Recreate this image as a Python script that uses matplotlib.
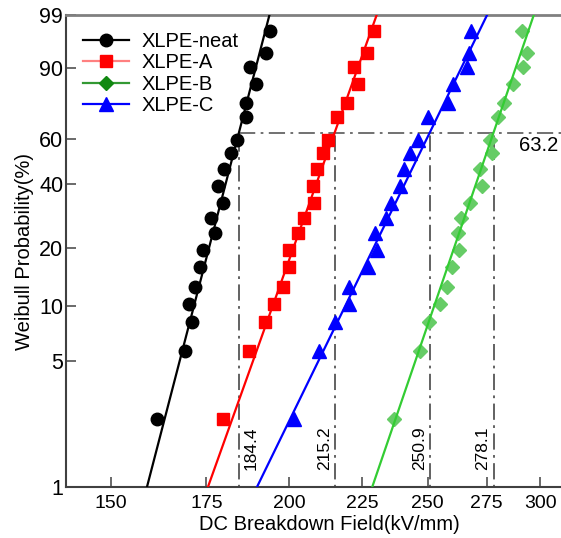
import numpy as np
import matplotlib
matplotlib.use('Agg')
import matplotlib.pyplot as plt
import matplotlib.transforms as mtransforms
from matplotlib.lines import Line2D

plt.rcParams['font.family'] = ['Liberation Sans', 'DejaVu Sans']

# plotting positions (%), same for all samples
prob = [2.4, 5.7, 8.2, 10.3, 12.6, 16.0, 19.5, 23.7, 28.0, 33.1,
        39.2, 46.4, 53.4, 59.5, 70.4, 77.2, 84.9, 90.3, 94.0, 97.6]

# breakdown fields (kV/mm)
neat = [161.5, 169.0, 170.9, 170.0, 171.8, 173.2, 174.1, 177.4, 176.3, 179.8,
        178.2, 180.1, 182.1, 183.8, 186.5, 186.5, 189.5, 187.8, 192.6, 193.9]
xlpe_a = [179.7, 187.5, 192.2, 195.2, 198.1, 199.8, 199.8, 203.0, 204.7, 208.0,
          207.8, 209.1, 211.2, 212.9, 216.0, 219.7, 223.4, 222.1, 226.7, 229.2]
xlpe_b = [236.9, 246.8, 250.5, 254.9, 258.0, 260.1, 262.9, 262.6, 264.0, 267.6,
          273.0, 272.0, 277.2, 276.7, 280.0, 282.7, 287.0, 291.7, 293.6, 291.2]
xlpe_c = [201.4, 209.7, 215.4, 220.4, 220.4, 227.0, 230.6, 229.8, 233.9, 235.7,
          239.0, 240.8, 243.2, 246.0, 250.0, 258.3, 260.5, 266.5, 267.2, 268.2]

names = ['XLPE-neat', 'XLPE-A', 'XLPE-B', 'XLPE-C']
samples = [neat, xlpe_a, xlpe_b, xlpe_c]
alpha = [184.4, 215.2, 278.1, 250.9]   # scale parameters (63.2 %)
beta = [31.0, 22.5, 23.5, 16.5]        # shape parameters of the fit lines

yticks = [1, 5, 10, 20, 40, 60, 90, 99]
xticks = [150, 175, 200, 225, 250, 275, 300]

line_cols = ['black', '#ff0000', '#33cc33', '#0000ff']
mark_cols = ['black', '#ff0000', '#66cc66', '#0000ff']
markers = ['o', 's', 'D', '^']
msizes = [9, 8, 7, 10]
leg_line = ['black', '#ff8080', '#339933', '#0000ff']
leg_mark = ['black', '#ff0000', '#118811', '#0000ff']


def fwd(p):
    with np.errstate(all='ignore'):
        return np.log(-np.log(1 - np.asarray(p) / 100.0))


def inv(w):
    with np.errstate(all='ignore'):
        return 100.0 * (1 - np.exp(-np.exp(np.asarray(w))))


fig = plt.figure(figsize=(5.61, 5.38), dpi=100)
ax = fig.add_axes([66 / 561, 51 / 538, 526 / 561, 472 / 538])
ax.set_xscale('log')
ax.set_yscale('function', functions=(fwd, inv))

for i in range(4):
    # fitted Weibull line between 0.5 % and 99.9 %
    pf = np.array([0.5, 99.9])
    xf = alpha[i] * (-np.log(1 - pf / 100)) ** (1 / beta[i])
    ax.plot(xf, pf, color=line_cols[i], lw=1.6, zorder=3)
    ax.plot(samples[i], prob, linestyle='none', marker=markers[i],
            ms=msizes[i], color=mark_cols[i], mec=mark_cols[i], zorder=2)

ax.set_xlim(139.5, 326)
ax.set_ylim(1, 99)

p63 = 100 * (1 - np.exp(-1))
dash = (0, (9, 3, 1.5, 3))
ax.plot([alpha[0], 400], [p63, p63], color='#666666', lw=1.3, linestyle=dash, zorder=1)
trans = mtransforms.blended_transform_factory(ax.transData, ax.transAxes)
for i, a in enumerate(alpha):
    ax.plot([a, a], [0.5, p63], color='#555555', lw=1.3, linestyle=dash, zorder=1)
    if i == 0:
        t = mtransforms.offset_copy(trans, fig=fig, x=5, y=0, units='dots')
        ax.text(a, 0.036, f'{a:.1f}', rotation=90, ha='left', va='bottom',
                fontsize=12.5, transform=t)
    else:
        t = mtransforms.offset_copy(trans, fig=fig, x=-3, y=0, units='dots')
        ax.text(a, 0.036, f'{a:.1f}', rotation=90, ha='right', va='bottom',
                fontsize=12.5, transform=t)
ax.text(290, 56.9, '63.2', fontsize=14.5, ha='left', va='center')

ax.set_xticks(xticks)
ax.set_xticklabels([str(v) for v in xticks])
ax.xaxis.set_minor_locator(matplotlib.ticker.NullLocator())
ax.set_yticks(yticks)
ax.set_yticklabels([str(v) for v in yticks])
ax.yaxis.set_minor_locator(matplotlib.ticker.NullLocator())
ax.tick_params(axis='both', direction='in', length=7, width=1.2, color='#505050')
ax.tick_params(axis='x', labelsize=14, pad=6)
ax.tick_params(axis='y', labelsize=15.5, pad=2)

for s in ['left', 'bottom']:
    ax.spines[s].set_color('#404040')
    ax.spines[s].set_linewidth(1.5)
ax.spines['top'].set_color('#808080')
ax.spines['top'].set_linewidth(2)
ax.spines['right'].set_visible(False)

ax.set_xlabel('DC Breakdown Field(kV/mm)', fontsize=14.5, labelpad=2)
ax.set_ylabel('Weibull Probability(%)', fontsize=14.5, labelpad=4)

handles = [Line2D([], [], color=leg_line[i], lw=1.6, marker=markers[i],
                  ms=msizes[i], mfc=leg_mark[i], mec=leg_mark[i])
           for i in range(4)]
ax.legend(handles, names, loc='upper left', bbox_to_anchor=(83 / 561, 1 - 32 / 538),
          bbox_transform=fig.transFigure, frameon=False, fontsize=14.5,
          borderpad=0, borderaxespad=0, handlelength=2.3, handletextpad=0.6,
          labelspacing=0.12)

fig.savefig('out.png', dpi=100)
